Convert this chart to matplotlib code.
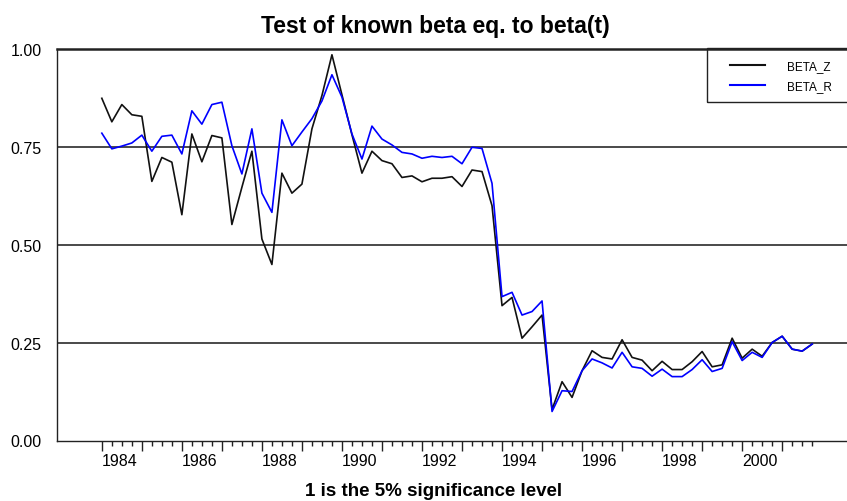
import matplotlib
matplotlib.use("Agg")
import matplotlib.pyplot as plt
from matplotlib import font_manager
from matplotlib.patches import Rectangle
from matplotlib.lines import Line2D
import numpy as np

# quarterly series, 1984Q1 .. 2001Q4
start_year = 1984
beta_z = [0.873, 0.813, 0.857, 0.831, 0.827, 0.661, 0.722, 0.710,
          0.576, 0.782, 0.711, 0.778, 0.772, 0.551, 0.646, 0.738,
          0.514, 0.449, 0.682, 0.631, 0.654, 0.795, 0.880, 0.984,
          0.882, 0.780, 0.682, 0.738, 0.714, 0.706, 0.671, 0.675,
          0.660, 0.669, 0.669, 0.673, 0.648, 0.690, 0.686, 0.599,
          0.344, 0.365, 0.261, 0.290, 0.320, 0.079, 0.150, 0.110,
          0.178, 0.229, 0.212, 0.208, 0.257, 0.212, 0.205, 0.178,
          0.202, 0.181, 0.181, 0.201, 0.227, 0.188, 0.193, 0.261,
          0.210, 0.233, 0.215, 0.250, 0.266, 0.233, 0.228, 0.246]
beta_r = [0.784, 0.744, 0.751, 0.759, 0.779, 0.738, 0.776, 0.779,
          0.731, 0.841, 0.807, 0.857, 0.863, 0.752, 0.680, 0.795,
          0.631, 0.582, 0.818, 0.752, 0.787, 0.821, 0.866, 0.933,
          0.876, 0.782, 0.718, 0.802, 0.769, 0.754, 0.735, 0.731,
          0.720, 0.725, 0.722, 0.725, 0.706, 0.748, 0.745, 0.656,
          0.367, 0.378, 0.320, 0.329, 0.356, 0.074, 0.127, 0.125,
          0.178, 0.208, 0.198, 0.185, 0.225, 0.188, 0.184, 0.164,
          0.182, 0.163, 0.163, 0.181, 0.206, 0.176, 0.184, 0.252,
          0.204, 0.225, 0.212, 0.250, 0.266, 0.233, 0.228, 0.246]
series_names = ["BETA_Z", "BETA_R"]
series_colors = ["#111111", "#0000ff"]
y_ticks = [0.0, 0.25, 0.50, 0.75, 1.00]
y_labels = ["0.00", "0.25", "0.50", "0.75", "1.00"]
title = "Test of known beta eq. to beta(t)"
xlabel = "1 is the 5% significance level"

# narrow font if it's there
names = {f.name for f in font_manager.fontManager.ttflist}
font = "Liberation Sans Narrow" if "Liberation Sans Narrow" in names else "Liberation Sans"
plt.rcParams["font.family"] = [font, "DejaVu Sans"]

W, H = 847, 502
fig = plt.figure(figsize=(W / 100, H / 100), dpi=100)
fig.patch.set_facecolor("white")

left, right, top, bottom = 57, 857, 49.5, 441.5
ax = fig.add_axes([left / W, 1 - bottom / H, (right - left) / W, (bottom - top) / H])

n = len(beta_z)
dates = start_year + np.arange(n) / 4

for yv in y_ticks[1:-1]:
    ax.axhline(yv, color="#2a2a2a", lw=1.2, zorder=1)

ax.plot(dates, beta_z, color=series_colors[0], lw=1.2, zorder=3)
ax.plot(dates, beta_r, color=series_colors[1], lw=1.2, zorder=4)

ax.set_xlim(start_year - 1.12, dates[-1] + 1.12)
ax.set_ylim(0, 1)

for side in ["left", "bottom"]:
    ax.spines[side].set_linewidth(1.0)
    ax.spines[side].set_color("#222222")
ax.spines["top"].set_linewidth(1.8)
ax.spines["top"].set_color("#222222")
ax.spines["right"].set_visible(False)

ax.set_yticks(y_ticks, y_labels)
ax.tick_params(axis="y", length=0, pad=11, labelsize=11.5)

years = list(range(start_year, start_year + n // 4))
ax.set_xticks(years, [str(y) if (y - start_year) % 2 == 0 else "" for y in years])
ax.set_xticks(dates, minor=True)
ax.tick_params(axis="x", which="major", length=7, width=1.0, pad=2,
               labelsize=11.5, direction="out", color="#222222")
ax.tick_params(axis="x", which="minor", length=3.4, width=1.0,
               direction="out", color="#222222")
for lbl in ax.get_xticklabels():
    lbl.set_ha("left")

fig.text(435 / W, 1 - 27 / H, title, ha="center", va="center",
         fontsize=16.5, fontweight="bold")
fig.text(434 / W, 1 - 492 / H, xlabel, ha="center", va="center",
         fontsize=13.5, fontweight="bold")

# legend box, runs off the right edge like the original
fig.patches.append(Rectangle((706.7 / W, 1 - 103.3 / H), 200 / W, 54 / H,
                             transform=fig.transFigure, fill=False,
                             edgecolor="#222222", lw=1.0, zorder=5))
handles = [Line2D([], [], color=c, lw=1.5) for c in series_colors]
fig.legend(handles, series_names, loc="upper left",
           bbox_to_anchor=(722 / W, 1 - 53 / H), frameon=False,
           fontsize=8.5, handlelength=2.9, handletextpad=1.9,
           labelspacing=0.65, borderpad=0.2)

fig.savefig("out.png", dpi=100)
